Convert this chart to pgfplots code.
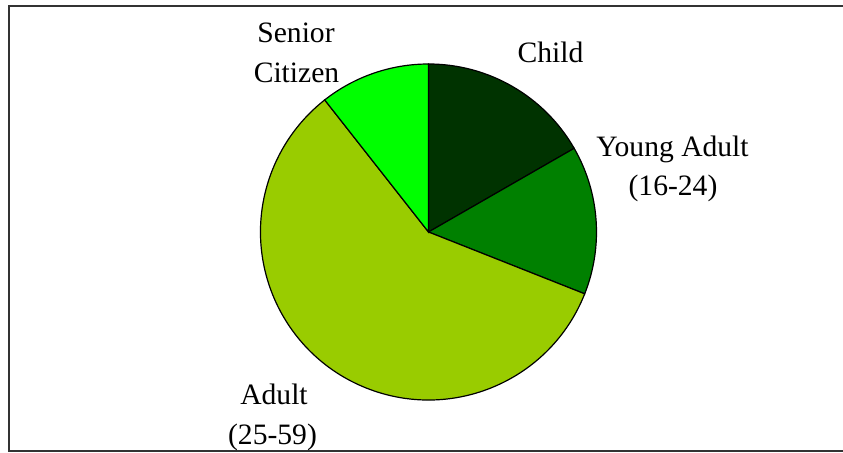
\documentclass[border=0pt]{standalone}
\usepackage{pgfplots}
\pgfplotsset{compat=1.18}
\usepackage{fontspec}
\setmainfont{Liberation Serif}
\definecolor{childc}{HTML}{003300}
\definecolor{youngc}{HTML}{008000}
\definecolor{adultc}{HTML}{99CC00}
\definecolor{seniorc}{HTML}{00FF00}
\definecolor{framec}{HTML}{333333}
% pie values (percent), clockwise from 12 o'clock
\def\vChild{16.7}
\def\vYoung{14.3}
\def\vAdult{58.4}
\def\vSenior{10.6}
\pgfmathsetmacro{\aA}{90}
\pgfmathsetmacro{\aB}{\aA-3.6*\vChild}
\pgfmathsetmacro{\aC}{\aB-3.6*\vYoung}
\pgfmathsetmacro{\aD}{\aC-3.6*\vAdult}
\pgfmathsetmacro{\aE}{\aD-3.6*\vSenior}
\def\R{126pt}
\begin{document}
\begin{tikzpicture}
\begin{axis}[
  x=0.75pt, y=0.75pt,
  xmin=0, xmax=843, ymin=0, ymax=453,
  hide axis, clip=false,
]
\coordinate (SW) at (axis cs:0,0);
\coordinate (NE) at (axis cs:843,453);
\draw[framec, line width=1.5pt] (axis cs:843,447.3) -- (axis cs:8.7,447.3) -- (axis cs:8.7,1.5) -- (axis cs:843,1.5);
\filldraw[fill=childc, draw=black, line width=0.9pt] (axis cs:428.5,221) -- ++(\aA:\R) arc[start angle=\aA, end angle=\aB, radius=\R] -- cycle;
\filldraw[fill=youngc, draw=black, line width=0.9pt] (axis cs:428.5,221) -- ++(\aB:\R) arc[start angle=\aB, end angle=\aC, radius=\R] -- cycle;
\filldraw[fill=adultc, draw=black, line width=0.9pt] (axis cs:428.5,221) -- ++(\aC:\R) arc[start angle=\aC, end angle=\aD, radius=\R] -- cycle;
\filldraw[fill=seniorc, draw=black, line width=0.9pt] (axis cs:428.5,221) -- ++(\aD:\R) arc[start angle=\aD, end angle=\aE, radius=\R] -- cycle;
\begin{scope}[every node/.style={anchor=base, inner sep=0pt, font=\fontsize{22.2}{26}\selectfont}]
\node at (axis cs:296,410) {Senior};
\node at (axis cs:296.5,370) {Citizen};
\node at (axis cs:550.5,390) {Child};
\node at (axis cs:672.5,296) {Young Adult};
\node at (axis cs:673,257) {(16-24)};
\node at (axis cs:274,48) {Adult};
\node at (axis cs:272.5,8) {(25-59)};
\end{scope}
\end{axis}
\pgfresetboundingbox
\path (SW) rectangle (NE);
\end{tikzpicture}
\end{document}
